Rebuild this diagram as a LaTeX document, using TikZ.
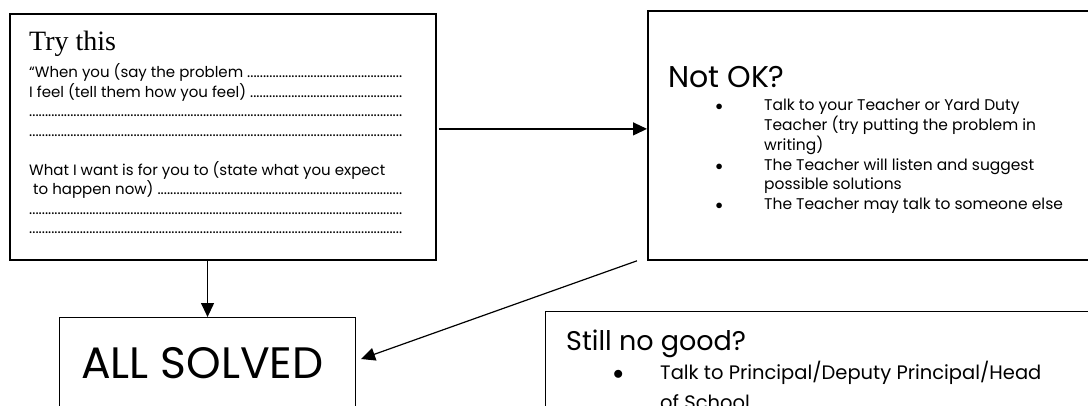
\documentclass[tikz,border=0pt]{standalone}
\usepackage{fontspec}
\setmainfont{Poppins}
\newfontfamily\headserif{Liberation Serif}
\usepackage{xcolor}
\usepackage{tikz}
\usetikzlibrary{
    positioning,
    arrows.meta,
    calc
}
\newcommand{\dotline}[1]{\makebox[373pt][l]{#1\xleaders\hbox{.}\hfill}}
\newcommand{\blob}[1]{\makebox[#1][l]{\makebox[0pt]{$\bullet$}}}

\begin{document}
\begin{tikzpicture}[x=1pt, y=-1pt,
    heavybox/.style={draw, line width=1.8pt, rectangle, inner sep=0pt, anchor=north west},
    lightbox/.style={draw, line width=1.1pt, rectangle, inner sep=0pt, anchor=north west},
    txt/.style={inner sep=0pt, anchor=base west, align=left},
    arr/.style={-{Triangle[length=14pt, width=13pt]}, line width=1.2pt}
]
    \useasboundingbox (0,0) rectangle (1088,405);
    \clip (0,0) rectangle (1088,405);

    % the four boxes
    \node[heavybox, minimum width=426pt, minimum height=246pt] (try) at (9,13) {};
    \node[heavybox, minimum width=460pt, minimum height=249pt] (notok) at (647,10) {};
    \node[lightbox, minimum width=296pt, minimum height=140pt] (solved) at (59,317) {};
    \node[lightbox, minimum width=560pt, minimum height=140pt] (still) at (545,311) {};

    % Try this
    \node[txt, font=\headserif\fontsize{28}{32}\selectfont] (trytitle)
        at ($(try.north west)+(20,37)$) {Try this};
    \node[txt, anchor=north west, font=\fontsize{15}{19.5}\selectfont] (trybody)
        at ($(try.north west)+(20,50.5)$) {%
        \dotline{“When you (say the problem }\\
        \dotline{I feel (tell them how you feel) }\\
        \dotline{}\\
        \dotline{}\\[19.5pt]
        What I want is for you to (state what you expect\\
        \dotline{\ to happen now) }\\
        \dotline{}\\
        \dotline{}};

    % Not OK
    \node[txt, font=\fontsize{30}{36}\selectfont] (notoktitle)
        at ($(notok.north west)+(21,77)$) {Not OK?};
    \node[txt, font=\fontsize{15.5}{19.6}\selectfont] (notoklist)
        at ($(notok.north west)+(72,100)$) {%
        \begin{tabular}[t]{@{}l@{}l@{}}
        \blob{45pt} & Talk to your Teacher or Yard Duty\\
         & Teacher (try putting the problem in\\
         & writing)\\
        \blob{45pt} & The Teacher will listen and suggest\\
         & possible solutions\\
        \blob{45pt} & The Teacher may talk to someone else
        \end{tabular}};

    % All solved
    \node[txt, font=\fontsize{44}{50}\selectfont] (solvedtext)
        at ($(solved.north west)+(22,61)$) {ALL SOLVED};

    % Still no good
    \node[txt, font=\fontsize{27}{32}\selectfont] (stilltitle)
        at ($(still.north west)+(21,39)$) {Still no good?};
    \node[txt, font=\fontsize{19.5}{30}\selectfont] (stilllist)
        at ($(still.north west)+(73,68)$) {%
        \begin{tabular}[t]{@{}l@{}l@{}}
        \blob{42pt} & Talk to Principal/Deputy Principal/Head\\
         & of School
        \end{tabular}};

    % connectors
    \draw[arr] ($(try.east)+(2,-8)$) -- ($(try.east -| notok.west)+(0,-8)$);
    \draw[arr] (try.south -| solved.north) -- (solved.north);
    \draw[arr] ($(notok.south west)+(-10,0)$) -- ($(solved.north east)+(5,42)$);
\end{tikzpicture}
\end{document}
